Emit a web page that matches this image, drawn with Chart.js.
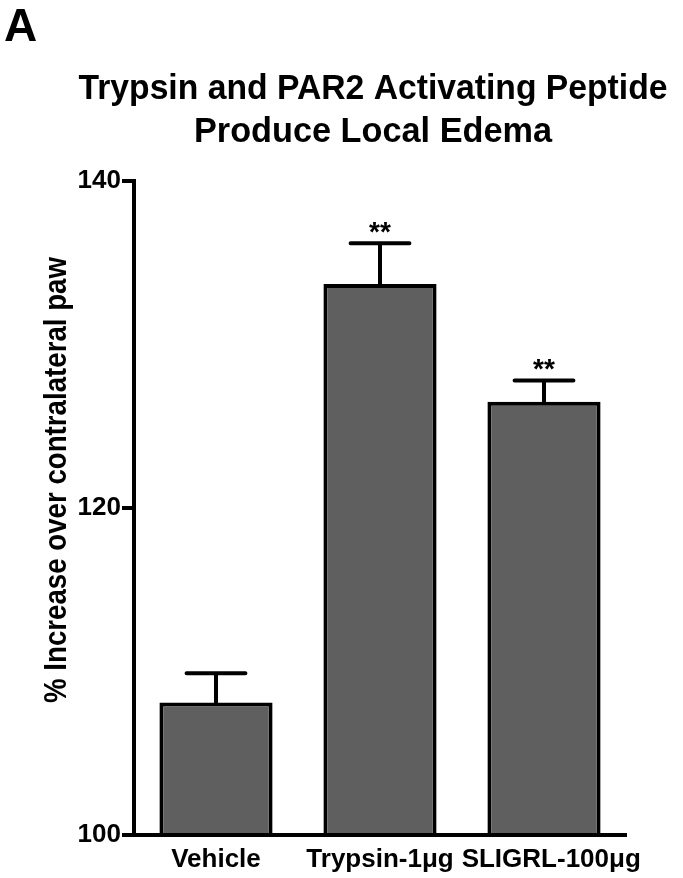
<!DOCTYPE html>
<html>
<head>
<meta charset="utf-8">
<script src="https://cdn.jsdelivr.net/npm/chart.js@4.4.0/dist/chart.umd.min.js"></script>
<style>
  html, body { margin: 0; padding: 0; background: #fff; }
  #wrap { width: 683px; height: 878px; position: relative; }
</style>
</head>
<body>
<div id="wrap"><canvas id="edemaChart"></canvas></div>
<script>
// data
const categories = ['Vehicle', 'Trypsin-1μg', 'SLIGRL-100μg'];
const means = [108.1, 133.7, 126.5];
const sems = [1.8, 2.5, 1.3];
const stars = ['', '**', '**'];
const yTicks = [100, 120, 140];

const panelLetter = 'A';
const titleLines = ['Trypsin and PAR2 Activating Peptide', 'Produce Local Edema'];
const yTitle = '% Increase over contralateral paw';

const FONT = '"Liberation Sans", Arial, Helvetica, sans-serif';

// upper error bars + significance stars
const errorBars = {
  id: 'errorBars',
  afterDatasetsDraw(chart) {
    const ctx = chart.ctx;
    const y = chart.scales.y;
    const meta = chart.getDatasetMeta(0);
    ctx.save();
    ctx.strokeStyle = '#000';
    ctx.fillStyle = '#000';
    ctx.lineWidth = 4;
    ctx.lineCap = 'round';
    meta.data.forEach((bar, i) => {
      const top = y.getPixelForValue(means[i] + sems[i]);
      const half = bar.width * 0.26;
      ctx.beginPath();
      ctx.moveTo(bar.x, bar.y);
      ctx.lineTo(bar.x, top);
      ctx.moveTo(bar.x - half, top);
      ctx.lineTo(bar.x + half, top);
      ctx.stroke();
      if (stars[i]) {
        ctx.font = 'bold 28px ' + FONT;
        ctx.textAlign = 'center';
        ctx.textBaseline = 'alphabetic';
        ctx.fillText(stars[i], bar.x, top - 2);
      }
    });
    ctx.restore();
  }
};

// panel letter, title and y axis title (the original lettering is a bit condensed)
const figureText = {
  id: 'figureText',
  afterDraw(chart) {
    const ctx = chart.ctx;
    const area = chart.chartArea;
    ctx.save();
    ctx.fillStyle = '#000';
    ctx.textBaseline = 'alphabetic';

    ctx.font = 'bold 46px ' + FONT;
    ctx.textAlign = 'left';
    ctx.fillText(panelLetter, 4, 41);

    ctx.font = 'bold 35px ' + FONT;
    ctx.textAlign = 'center';
    const cx = (area.left + area.right) / 2 - 7;
    ctx.fillText(titleLines[0], cx, 99, 589);
    ctx.fillText(titleLines[1], cx, 142, 358);

    ctx.translate(57, (area.top + area.bottom) / 2 - 28);
    ctx.rotate(-Math.PI / 2);
    ctx.textBaseline = 'middle';
    ctx.font = 'bold 32px ' + FONT;
    ctx.fillText(yTitle, 0, 0, 446);
    ctx.restore();
  }
};

const ctx = document.getElementById('edemaChart').getContext('2d');
new Chart(ctx, {
  type: 'bar',
  data: {
    labels: categories,
    datasets: [{
      data: means,
      backgroundColor: '#5f5f5f',
      borderColor: '#000',
      borderWidth: 4,
      borderSkipped: 'start',
      barPercentage: 0.69,
      categoryPercentage: 1
    }]
  },
  options: {
    responsive: true,
    maintainAspectRatio: false,
    animation: false,
    layout: { padding: { top: 181, right: 57, bottom: 0, left: 0 } },
    plugins: {
      legend: { display: false },
      tooltip: { enabled: false },
      title: { display: false }
    },
    scales: {
      x: {
        grid: { display: false, drawTicks: false },
        border: { display: true, color: '#000', width: 4, z: 1 },
        ticks: {
          color: '#000',
          font: { family: FONT, size: 26, weight: 'bold' },
          padding: 9,
          maxRotation: 0,
          autoSkip: false,
          // last label sits a little right of its bar in the original
          callback: (v, i) => (i === categories.length - 1 ? '  ' : '') + categories[i]
        },
        afterFit(scale) { scale.height = 43; }
      },
      y: {
        min: 100,
        max: 140,
        afterBuildTicks(scale) { scale.ticks = yTicks.map(v => ({ value: v })); },
        grid: {
          display: true,
          drawOnChartArea: false,
          drawTicks: true,
          tickLength: 12,
          lineWidth: 4,
          color: '#000'
        },
        border: { display: true, color: '#000', width: 4, z: 1 },
        ticks: {
          color: '#000',
          font: { family: FONT, size: 26, weight: 'bold' },
          padding: 1
        },
        afterFit(scale) { scale.width = 134; }
      }
    }
  },
  plugins: [errorBars, figureText]
});
</script>
</body>
</html>
